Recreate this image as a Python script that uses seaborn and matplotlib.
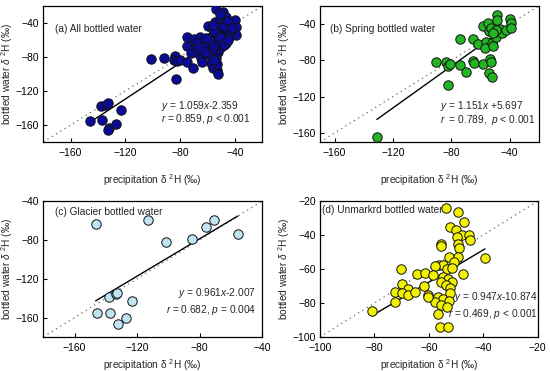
import matplotlib
matplotlib.use("Agg")
import matplotlib.pyplot as plt
import seaborn as sns
import numpy as np
import pandas as pd

sns.set_theme(style="white")
plt.rcParams['font.family'] = ['Liberation Sans', 'DejaVu Sans']
plt.rcParams['mathtext.fontset'] = 'custom'
plt.rcParams['mathtext.rm'] = 'Liberation Sans'
plt.rcParams['mathtext.it'] = 'Liberation Sans:italic'

# (a) all bottled water
a_precip = [-146, -138, -134, -133, -137, -132, -133, -127, -123,
            -101, -92, -84, -84.5, -82, -80, -83, -75, -70.5, -75, -75,
            -70, -65.5, -69, -72, -66.7, -63.6, -63, -65, -64.3, -58.7,
            -59.4, -56.3, -57.7, -59.4, -57, -57.7, -55.8, -53.3, -52.6, -53.8,
            -49, -46.5, -50.9, -54.6, -50.9, -47.3, -44.8, -42.4, -40, -39.2,
            -39.2, -49.7, -53.3, -47.3, -50.9, -46.5, -54.6, -50.4, -52, -54.6,
            -53.8, -57, -62, -68, -46, -43.6, -48.5, -53.3, -55.8, -52,
            -48, -45, -55, -51, -56, -60, -48, -44, -58, -61,
            -53, -55, -62, -66, -42, -51, -56, -45]
a_bottled = [-155, -138, -136, -134, -154, -164, -166, -159, -142,
             -82, -81, -79, -83.5, -85, -84, -106, -85.5, -92.5, -57, -66.5,
             -59, -57, -69, -75, -75, -64.6, -71.7, -81.5, -85.4, -63,
             -43.5, -47.4, -56, -71, -79.5, -86.6, -93, -95, -100, -24,
             -27.4, -33.3, -34.4, -38.4, -40.3, -41, -44.2, -40.3, -36.4, -45,
             -54, -50, -54, -56, -62, -63, -67, -67.8, -73.6, -75.6,
             -81.5, -71.7, -67.8, -63.8, -48.2, -51.3, -56, -60, -60.7, -45,
             -44, -38, -50, -57, -66, -76, -66, -57, -60, -58,
             -88, -83, -74, -70, -46, -30, -42, -60]

# (b) spring bottled water
b_precip = [-131, -90.7, -83.5, -82.3, -81, -82.3, -74.4, -74, -70, -65,
            -65, -64.7, -61.4, -58.6, -58.2, -56.4, -56.8, -55.2, -54, -53,
            -53.7, -53, -54, -52.3, -51.9, -51.2, -49.6, -48.5, -48.5, -46.9,
            -45.6, -42.8, -39.9, -39.4, -38.8, -49.6, -51.2]
b_bottled = [-164, -81.5, -82.2, -86, -84, -106.7, -56.7, -85, -92.6, -56.7,
             -80.4, -83.3, -62.2, -42.6, -84.4, -59.3, -66, -38.9, -48.1, -44.4,
             -78.9, -81.5, -93.7, -98.1, -61.1, -64, -53.7, -30.4, -35.9, -45.6,
             -50, -47, -34.4, -38.9, -44.4, -46.3, -50]

# (c) glacier bottled water
c_precip = [-146.5, -113.2, -101.6, -84.9, -76, -71, -55.6, -145.9, -137.8, -133.6,
            -133, -137.4, -132.2, -126.9, -123.1]
c_bottled = [-63.6, -59.4, -81.7, -79.2, -66.7, -59.1, -74.4, -155.6, -138.3, -136.2,
             -134.5, -155.6, -166.7, -160.8, -142.8]

# (d) unmarked bottled water
d_precip = [-80.9, -72.5, -53.8, -49.3, -47.2, -52.3, -49.9, -47.7, -45.3, -45,
            -49.6, -55.6, -55.6, -49.3, -48.9, -52.5, -49.4, -39.4, -70.3, -56.2,
            -55, -57.8, -50.9, -53.5, -51.6, -47.3, -64.2, -61.5, -58.4, -54.8,
            -52.9, -55.6, -51.6, -69.7, -53.8, -61.9, -67.6, -52.3, -72.5, -69.7,
            -67.6, -65.2, -60.3, -56.6, -55, -52.3, -52.5, -57.8, -55.6, -56.8,
            -56, -52.9, -60.3, -53.5]
d_bottled = [-84.8, -79.3, -24.3, -26.7, -32.2, -35.1, -37.1, -40, -40, -43,
             -41, -45, -46.4, -45.5, -47.9, -52.8, -52.8, -53.4, -60.1, -57.7,
             -57.7, -58.1, -55.8, -60.1, -59.3, -62.8, -63.2, -62.6, -63.6, -64.6,
             -65.6, -67.9, -67.9, -69.1, -69.5, -69.9, -71.9, -71.1, -73.8, -74.4,
             -75, -73.8, -75, -76.4, -77.4, -74.4, -78.9, -79.3, -81.3, -86.2,
             -94.1, -94.1, -76.4, -82.5]

# panel settings
labels = ["(a) All bottled water", "(b) Spring bottled water",
          "(c) Glacier bottled water", "(d) Unmarkrd bottled water"]
colors = ["#0b0b9a", "#22b422", "#bfe4f2", "#f2f200"]
slopes = [1.059, 1.151, 0.961, 0.947]
intercepts = [-2.359, 5.697, -2.007, -10.874]
eq_lines = [r"$\mathit{y}$ = 1.059$\mathit{x}$-2.359",
            r"$\mathit{y}$ = 1.151$\mathit{x}$ +5.697",
            r"$\mathit{y}$ = 0.961$\mathit{x}$-2.007",
            r"$\mathit{y}$ = 0.947$\mathit{x}$-10.874"]
stat_lines = [r"$\mathit{r}$ = 0.859, $\mathit{p}$ < 0.001",
              r"$\mathit{r}$  = 0.789,  $\mathit{p}$ < 0.001",
              r"$\mathit{r}$ = 0.682, $\mathit{p}$ = 0.004",
              r"$\mathit{r}$ = 0.469, $\mathit{p}$ < 0.001"]
limits = [(-180, -20), (-170, -20), (-180, -40), (-100, -20)]
ticks = [[-160, -120, -80, -40], [-160, -120, -80, -40],
         [-160, -120, -80, -40], [-100, -80, -60, -40, -20]]
yticks = [[-160, -120, -80, -40], [-160, -120, -80, -40],
          [-160, -120, -80, -40], [-100, -80, -60, -40, -20]]

datasets = [(a_precip, a_bottled), (b_precip, b_bottled),
            (c_precip, c_bottled), (d_precip, d_bottled)]

boxes = [[0.0787, 0.6173, 0.398, 0.3666], [0.5818, 0.6173, 0.398, 0.3666],
         [0.0787, 0.0916, 0.398, 0.3666], [0.5818, 0.0916, 0.396, 0.3666]]
label_pos = [(0.053, 0.83), (0.046, 0.83), (0.053, 0.917), (0.01, 0.934)]
text_pos = [(0.54, 0.268, 0.17, "left"), (0.55, 0.268, 0.165, "left"),
            (0.97, 0.32, 0.197, "right"), (1.0, 0.295, 0.172, "right")]
xlab_y = [-0.22, -0.22, -0.145, -0.145]

fig = plt.figure(figsize=(5.5, 3.71), dpi=100)

for i in range(4):
    ax = fig.add_axes(boxes[i])
    df = pd.DataFrame({"precip": datasets[i][0], "bottled": datasets[i][1]})
    lo, hi = limits[i]

    ax.plot([lo, hi], [lo, hi], linestyle=(0, (1, 3)), color="#666666", lw=0.9, zorder=1)
    xs = np.array([df["precip"].min(), df["precip"].max()])
    ax.plot(xs, slopes[i] * xs + intercepts[i], color="black", lw=1, zorder=2)
    sns.scatterplot(data=df, x="precip", y="bottled", ax=ax, color=colors[i],
                    edgecolor="#111111", linewidth=0.7, s=46, zorder=3)

    ax.set_xlim(lo, hi)
    ax.set_ylim(lo, hi)
    ax.set_xticks(ticks[i])
    ax.set_yticks(yticks[i])
    ax.tick_params(direction="in", length=3, width=0.8, labelsize=7.5, pad=4,
                   bottom=True, left=True, colors="black")
    ax.tick_params(axis="y", pad=3)
    for sp in ax.spines.values():
        sp.set_color("black")
        sp.set_linewidth(0.9)

    ax.set_xlabel("precipitation δ $^{2}$H (‰)", fontsize=7.3)
    ax.set_ylabel(r"bottled water $\mathit{δ}$ $^{2}$H (‰)", fontsize=7.3)
    ax.xaxis.set_label_coords(0.5, xlab_y[i])
    ax.yaxis.set_label_coords(-0.13, 0.5)

    ax.text(label_pos[i][0], label_pos[i][1], labels[i], transform=ax.transAxes,
            fontsize=7.3, va="center", ha="left")
    tx, ty1, ty2, ha = text_pos[i]
    ax.text(tx, ty1, eq_lines[i], transform=ax.transAxes, fontsize=7.3, va="center", ha=ha)
    ax.text(tx, ty2, stat_lines[i], transform=ax.transAxes, fontsize=7.3, va="center", ha=ha)

fig.savefig("out.png", dpi=100)
